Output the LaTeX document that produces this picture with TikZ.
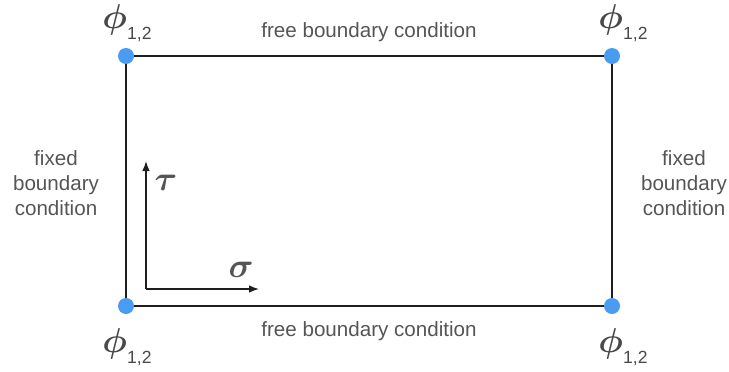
\documentclass[tikz,border=0pt]{standalone}
\usepackage{fontspec}
\usepackage{bm}
\setmainfont{Liberation Sans}
\usetikzlibrary{arrows.meta}
\definecolor{txtgray}{HTML}{555555}
\definecolor{dotblue}{HTML}{4A9BF2}
\definecolor{linecol}{HTML}{1E1E1E}
\tikzset{
  lbl/.style={text=txtgray, font=\fontsize{10.3}{12.6}\selectfont, align=center, inner sep=0pt},
  corner/.style={circle, fill=dotblue, minimum size=8pt, inner sep=0pt},
  phil/.style={text=txtgray!85!black, inner sep=0pt},
  axis/.style={linecol, line width=0.7pt, -{Latex[length=5pt,width=3.8pt]}},
  edge/.style={linecol, line width=0.9pt}
}
\newcommand{\philabel}{\fontsize{18}{18}\selectfont$\bm{\phi}$\raisebox{-0.3em}{\fontsize{8.8}{9}\selectfont 1,2}}
\begin{document}
\begin{tikzpicture}[x=0.5pt,y=-0.5pt]
\useasboundingbox (0,0) rectangle (729,371);
\coordinate (tl) at (126,56);
\coordinate (tr) at (612,56);
\coordinate (bl) at (126,306);
\coordinate (br) at (612,306);
\draw[edge] (tl) -- (tr) -- (br) -- (bl) -- cycle;
\node[corner] (dtl) at (tl) {};
\node[corner] (dtr) at (tr) {};
\node[corner] (dbl) at (bl) {};
\node[corner] (dbr) at (br) {};
\node[phil] (ptl) at (127,23) {\philabel};
\node[phil] (ptr) at (623,23) {\philabel};
\node[phil] (pbl) at (127,347) {\philabel};
\node[phil] (pbr) at (623,347) {\philabel};
\node[lbl] (ftop) at (369,32) {free boundary condition};
\node[lbl] (fbot) at (369,331) {free boundary condition};
\node[lbl] (fl) at (56,183) {fixed\\boundary\\condition};
\node[lbl] (fr) at (684,183) {fixed\\boundary\\condition};
\coordinate (o) at (146,289);
\coordinate (tauend) at (146,161);
\coordinate (sigend) at (259,289);
\draw[axis] (o) -- (tauend);
\draw[axis] (o) -- (sigend);
\node[text=txtgray, inner sep=0pt] (tau) at (166,183) {\fontsize{16}{16}\selectfont$\bm{\tau}$};
\node[text=txtgray, inner sep=0pt] (sig) at (241,270) {\fontsize{16}{16}\selectfont$\bm{\sigma}$};
\end{tikzpicture}
\end{document}
